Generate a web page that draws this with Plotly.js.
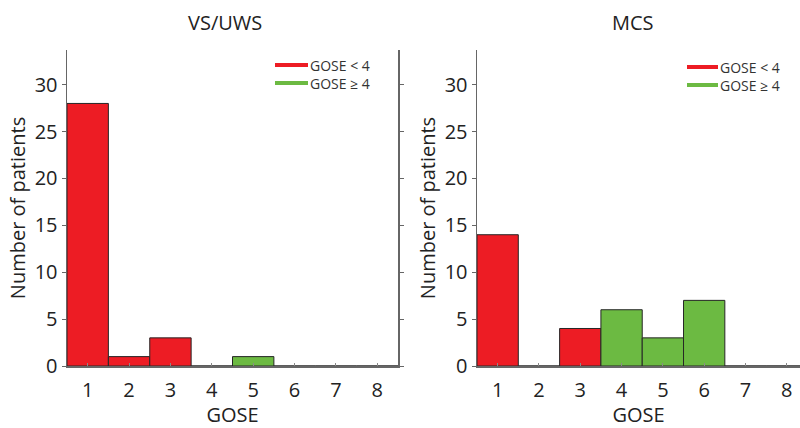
<!DOCTYPE html>
<html>
<head>
<meta charset="utf-8">
<script src="https://cdn.plot.ly/plotly-3.0.1.min.js"></script>
<style>html,body{margin:0;padding:0;background:#fff;}#chart{width:800px;height:428px;}</style>
</head>
<body>
<div id="chart"></div>
<script>
const goseLow = [1, 2, 3];
const goseHigh = [4, 5, 6, 7, 8];
const vsLow = [28, 1, 3];
const vsHigh = [0, 1, 0, 0, 0];
const mcsLow = [14, 0, 4];
const mcsHigh = [6, 3, 7, 0, 0];
const tickVals = [1, 2, 3, 4, 5, 6, 7, 8];
const yTicks = [0, 5, 10, 15, 20, 25, 30];
const panelTitles = ['VS/UWS', 'MCS'];
const legendNames = ['GOSE < 4', 'GOSE \u2265 4'];

const RED = '#ed1c24', GREEN = '#6cba42', EDGE = '#262626';
const FONT = '"Open Sans", Lato, sans-serif';
const W = 800, H = 428;

function bars(x, y, color, xa, ya) {
  return {type: 'bar', x: x, y: y, width: 1, xaxis: xa, yaxis: ya,
    marker: {color: color, line: {color: EDGE, width: 1}}, showlegend: false, hoverinfo: 'x+y'};
}

const data = [
  bars(goseLow, vsLow, RED, 'x', 'y'),
  bars(goseHigh, vsHigh, GREEN, 'x', 'y'),
  bars(goseLow, mcsLow, RED, 'x2', 'y2'),
  bars(goseHigh, mcsHigh, GREEN, 'x2', 'y2')
];

const yDom = [(H - 366) / H, (H - 50) / H];
function xAxis(domain, range, anchor) {
  return {domain: domain, range: range, anchor: anchor, tickvals: tickVals, ticks: 'inside', ticklen: 3,
    tickcolor: '#888', showline: true, linecolor: '#666', linewidth: 1.5, showgrid: false,
    zeroline: false, ticklabelstandoff: 5, tickfont: {size: 20, color: '#222', family: FONT},
    title: {text: 'GOSE', font: {size: 20, color: '#222', family: FONT}, standoff: 2}};
}
function yAxis(anchor, mirror) {
  return {domain: yDom, range: [0, 33.7], tickvals: yTicks, ticks: 'outside', ticklen: 4,
    tickcolor: '#666', showline: true, linecolor: '#666', linewidth: 1.5, showgrid: false,
    zeroline: false, mirror: mirror, anchor: anchor, ticklabelstandoff: 0,
    tickfont: {size: 20, color: '#222', family: FONT},
    title: {text: 'Number of patients', font: {size: 20, color: '#222', family: FONT}, standoff: 3}};
}

// manual legends (one per panel)
const legendSpecs = [
  {x0: 275, x1: 308, ys: [65, 83]},
  {x0: 687, x1: 718, ys: [67, 85]}
];
const legendColors = [RED, GREEN];
const shapes = [], annotations = [];
legendSpecs.forEach(spec => {
  spec.ys.forEach((yy, i) => {
    shapes.push({type: 'line', xref: 'paper', yref: 'paper',
      x0: spec.x0 / W, x1: spec.x1 / W, y0: (H - yy) / H, y1: (H - yy) / H,
      line: {color: legendColors[i], width: 4}});
    annotations.push({text: legendNames[i], xref: 'paper', yref: 'paper',
      x: (spec.x1 + 1) / W, y: (H - yy) / H, xanchor: 'left', yanchor: 'middle',
      showarrow: false, borderpad: 0, font: {size: 14, color: '#333', family: FONT}});
  });
});
annotations.push(
  {text: panelTitles[0], x: 225 / W, y: (H - 23) / H, xref: 'paper', yref: 'paper',
    xanchor: 'center', yanchor: 'middle', showarrow: false, font: {size: 20, color: '#222', family: FONT}},
  {text: panelTitles[1], x: 633 / W, y: (H - 23) / H, xref: 'paper', yref: 'paper',
    xanchor: 'center', yanchor: 'middle', showarrow: false, font: {size: 20, color: '#222', family: FONT}}
);

const layout = {
  width: W, height: H, margin: {l: 0, r: 0, t: 0, b: 0},
  paper_bgcolor: '#fff', plot_bgcolor: '#fff', bargap: 0, barmode: 'overlay',
  xaxis: xAxis([67 / W, 398 / W], [0.5, 8.5], 'y'),
  yaxis: yAxis('x', 'ticks'),
  xaxis2: xAxis([477 / W, 1], [0.5, 8.32], 'y2'),
  yaxis2: yAxis('x2', false),
  showlegend: false,
  shapes: shapes,
  annotations: annotations
};

Plotly.newPlot('chart', data, layout, {displayModeBar: false, staticPlot: true});
</script>
</body>
</html>
